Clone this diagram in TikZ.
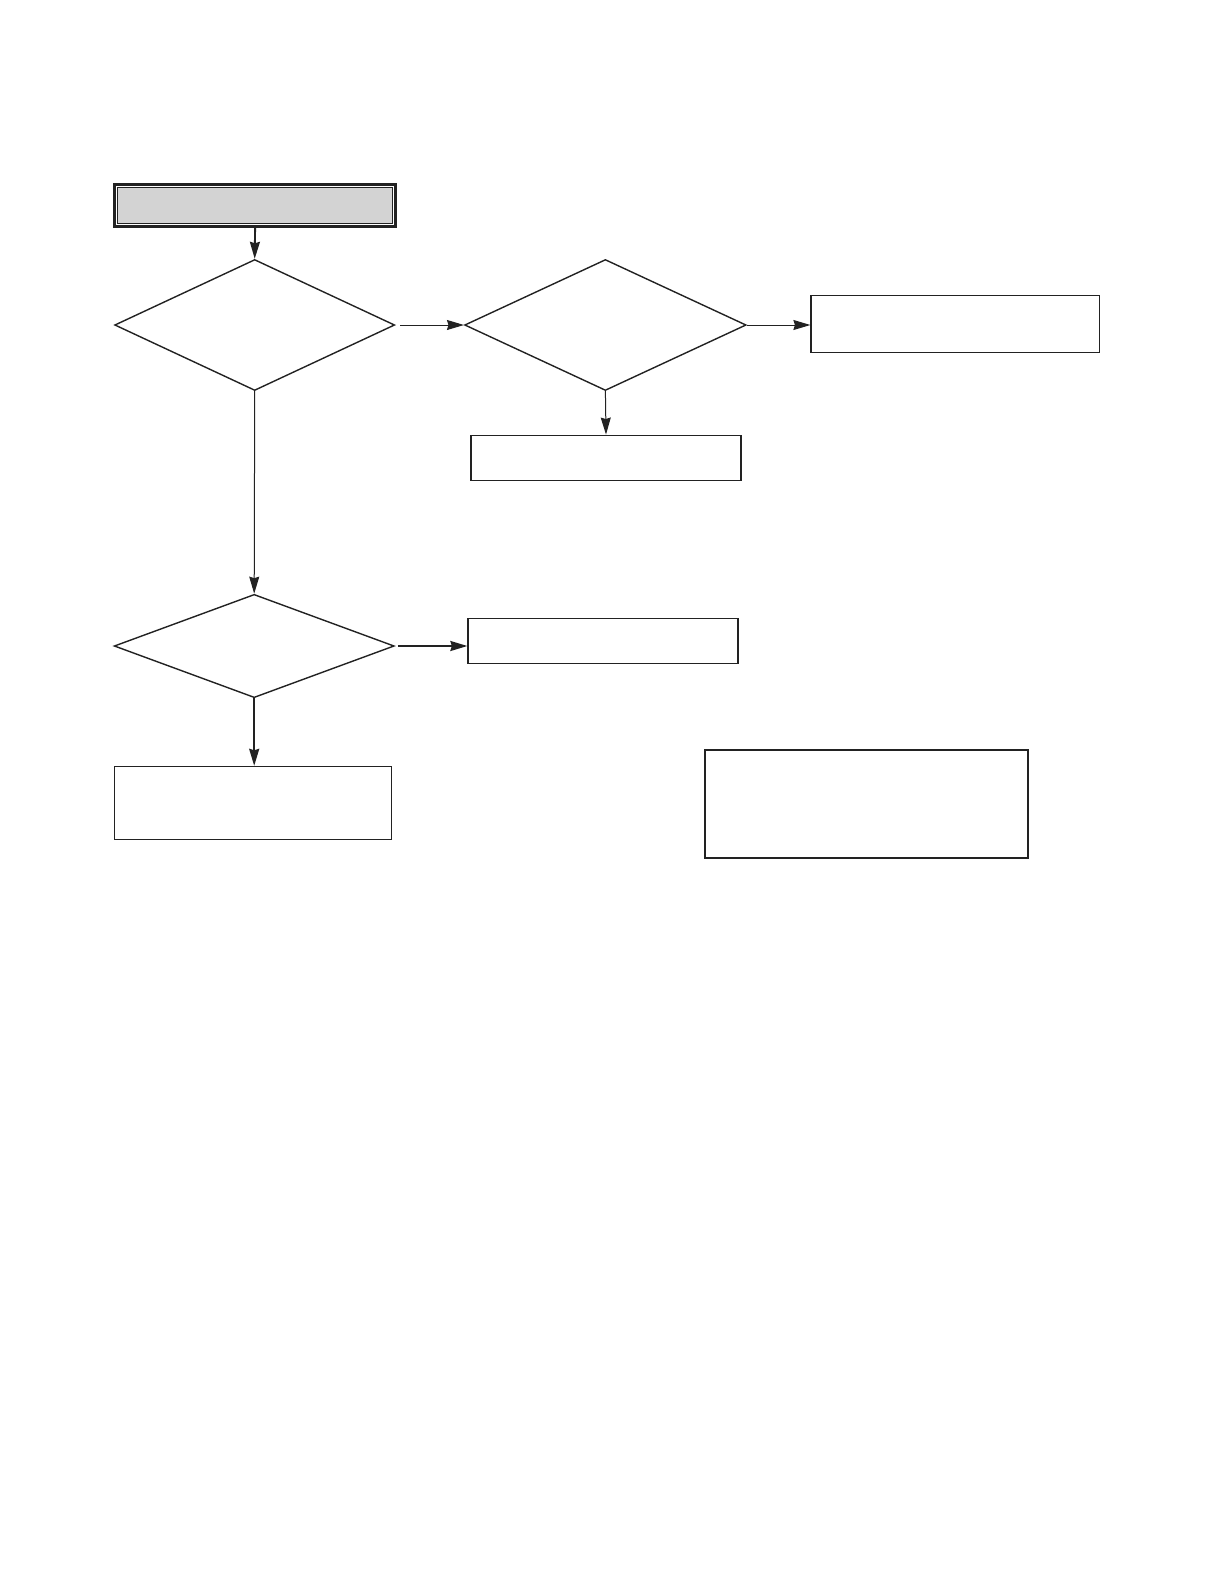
\documentclass[tikz,border=0pt]{standalone}
\usepackage{tikz}
\usetikzlibrary{positioning,arrows.meta,shapes.geometric}
\definecolor{ink}{HTML}{222222}
\definecolor{banner}{HTML}{D3D3D3}

\begin{document}
\begin{tikzpicture}[
  x=1pt, y=-1pt,
  every node/.style={inner sep=0pt},
  decision/.style={
    diamond, draw=ink, line width=1.4pt,
    minimum width=280pt, minimum height=131pt,
  },
  action/.style={
    rectangle, draw=ink, line width=1.3pt,
    minimum width=270pt, minimum height=45pt,
  },
  titlebox/.style={
    rectangle, draw=ink, line width=3pt,
    minimum width=281pt, minimum height=42pt,
  },
  flow/.style={-{Stealth[length=17pt, width=10pt, inset=1.5pt]}, ink, line width=1pt},
  flowthick/.style={flow, line width=1.9pt},
]
  \useasboundingbox (0,0) rectangle (1220,1588);

  % Start banner
  \node[titlebox] (start) at (255.1, 205.5) {};
  \draw[ink, line width=1pt, fill=banner]
    ([shift={(4.5,4.5)}]start.north west) rectangle ([shift={(-4.5,-4.5)}]start.south east);

  % Upper row
  \node[decision] (checkA) at (254.7, 325) {};
  \node[decision, minimum width=281.5pt] (checkB) at (605.4, 325) {};
  \node[action, minimum width=288.5pt, minimum height=56.7pt] (resultR) at (955.3, 324) {};
  \node[action] (resultB) at (606, 457.7) {};

  % Lower row
  \node[decision, minimum height=103.3pt] (checkC) at (254.2, 646) {};
  \node[action] (resultC) at (603, 641) {};
  \node[action, minimum width=277.4pt, minimum height=72.9pt] (resultD) at (253.1, 802.9) {};
  \node[action, line width=2.2pt, minimum width=322.9pt, minimum height=107.4pt] (note) at (866.2, 803.9) {};

  \draw[flowthick] (start.south)  -- (checkA.north);
  \draw[flow, shorten <=5pt] (checkA.east) -- (checkB.west);
  \draw[flow] (checkB.east)  -- (checkB.east -| resultR.west);
  \draw[flow] (checkB.south) -- (resultB.north);
  \draw[flow] (checkA.south) -- (checkC.north);
  \draw[flowthick, shorten <=3pt] (checkC.east) -- (checkC.east -| resultC.west);
  \draw[flowthick] (checkC.south) -- (checkC.south |- resultD.north);
\end{tikzpicture}
\end{document}
